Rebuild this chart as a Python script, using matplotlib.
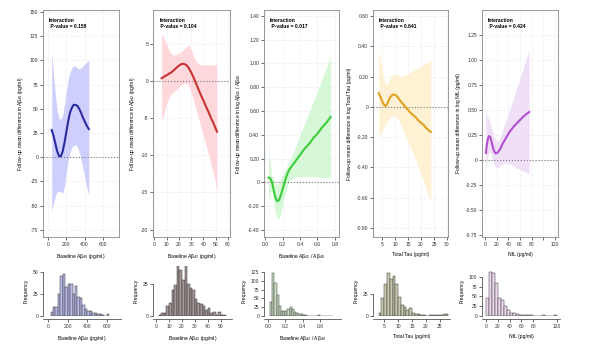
import numpy as np
import matplotlib
matplotlib.use("Agg")
import matplotlib.pyplot as plt

plt.rcParams['font.family'] = ['Liberation Sans', 'DejaVu Sans']
plt.rcParams['mathtext.fontset'] = 'custom'
plt.rcParams['mathtext.rm'] = 'Liberation Sans'
plt.rcParams['mathtext.it'] = 'Liberation Sans'

# ---- spline fits (x, estimate, lower, upper) ----
ab40_x = [40, 60, 80, 100, 120, 140, 160, 180, 200, 220, 240, 260, 280, 300, 320, 340, 360, 380, 400, 420, 445]
ab40_fit = [28, 22, 14, 6, 1, 1, 6, 15, 26, 37, 46, 51, 54, 54, 53, 50, 46, 41, 37, 33, 29]
ab40_lo = [-56, -48, -40, -36, -35, -36, -37, -30, -16, -3, 5, 10, 12, 13, 11, 6, -2, -11, -20, -30, -40]
ab40_hi = [108, 85, 65, 48, 40, 39, 43, 55, 68, 80, 88, 92, 94, 94, 92, 91, 92, 94, 96, 98, 100]

ab42_x = [6, 8, 10, 12, 14, 16, 18, 20, 22, 24, 26, 28, 30, 32, 34, 36, 38, 40, 42, 44, 46, 48, 50, 51]
ab42_fit = [0.4, 0.6, 0.8, 1.0, 1.2, 1.5, 1.8, 2.1, 2.3, 2.35, 2.2, 1.8, 1.2, 0.5, -0.3, -1.1, -1.9, -2.6, -3.4, -4.1, -4.9, -5.6, -6.4, -6.8]
ab42_lo = [-5.5, -4.3, -3.0, -2.2, -1.7, -1.4, -1.1, -0.8, -0.5, -0.3, -0.3, -0.6, -1.5, -2.6, -3.8, -5.0, -6.2, -7.4, -8.6, -9.8, -11.1, -12.4, -13.8, -14.8]
ab42_hi = [6.5, 5.8, 4.9, 4.2, 3.7, 3.5, 3.6, 3.8, 4.0, 4.3, 4.6, 4.9, 4.3, 3.3, 2.6, 2.3, 2.2, 2.2, 2.2, 2.2, 2.2, 2.2, 2.2, 2.2]

ratio_x = [0.04, 0.06, 0.08, 0.10, 0.12, 0.14, 0.16, 0.18, 0.20, 0.22, 0.24, 0.26, 0.28, 0.30, 0.35, 0.40, 0.45, 0.50, 0.55, 0.60, 0.65, 0.70, 0.75]
ratio_fit = [0.04, 0.035, 0.0, -0.07, -0.13, -0.16, -0.15, -0.11, -0.06, -0.01, 0.04, 0.08, 0.11, 0.13, 0.18, 0.23, 0.28, 0.32, 0.37, 0.41, 0.46, 0.50, 0.55]
ratio_lo = [-0.18, -0.08, -0.07, -0.17, -0.26, -0.30, -0.30, -0.26, -0.20, -0.13, -0.07, -0.02, 0.01, 0.03, 0.05, 0.05, 0.05, 0.05, 0.05, 0.05, 0.04, 0.04, 0.04]
ratio_hi = [0.27, 0.15, 0.06, 0.02, -0.01, -0.02, 0.0, 0.03, 0.06, 0.09, 0.12, 0.15, 0.18, 0.21, 0.30, 0.40, 0.49, 0.58, 0.68, 0.77, 0.87, 0.96, 1.06]

tau_x = [3.7, 4.5, 5.5, 6.3, 7, 8, 9, 10, 11, 12, 13, 14, 15, 16, 17, 18, 19, 20, 21, 22, 23, 23.8]
tau_fit = [0.09, 0.06, 0.02, 0.005, 0.02, 0.06, 0.08, 0.08, 0.065, 0.04, 0.02, 0.0, -0.02, -0.04, -0.055, -0.07, -0.09, -0.105, -0.12, -0.14, -0.155, -0.165]
tau_lo = [-0.20, -0.17, -0.14, -0.12, -0.10, -0.07, -0.06, -0.06, -0.08, -0.11, -0.15, -0.19, -0.23, -0.27, -0.31, -0.35, -0.40, -0.44, -0.49, -0.54, -0.59, -0.64]
tau_hi = [0.39, 0.30, 0.20, 0.15, 0.15, 0.19, 0.21, 0.22, 0.21, 0.20, 0.20, 0.21, 0.22, 0.23, 0.24, 0.25, 0.26, 0.27, 0.28, 0.29, 0.30, 0.31]

nfl_x = [1.7, 3, 5, 7, 9, 11, 13, 15, 17, 19, 21, 24, 27, 30, 34, 38, 42, 46, 50, 55, 60, 65, 70, 75.6]
nfl_fit = [0.07, 0.14, 0.21, 0.24, 0.23, 0.19, 0.14, 0.10, 0.075, 0.065, 0.07, 0.09, 0.12, 0.16, 0.20, 0.24, 0.28, 0.31, 0.34, 0.37, 0.40, 0.43, 0.455, 0.48]
nfl_lo = [-0.10, -0.04, 0.04, 0.08, 0.08, 0.05, 0.01, -0.03, -0.06, -0.08, -0.08, -0.07, -0.05, -0.04, -0.03, -0.03, -0.04, -0.05, -0.06, -0.08, -0.09, -0.11, -0.12, -0.14]
nfl_hi = [0.50, 0.47, 0.43, 0.40, 0.37, 0.33, 0.29, 0.25, 0.22, 0.20, 0.19, 0.20, 0.24, 0.29, 0.36, 0.43, 0.50, 0.57, 0.64, 0.73, 0.82, 0.91, 1.00, 1.10]

# ---- histograms of baseline values (bin start, bin width, counts) ----
h_ab40_start, h_ab40_w = 25, 25
h_ab40 = [5, 10, 10, 25, 46, 48, 33, 37, 37, 25, 34, 22, 20, 12, 8, 6, 6, 3, 3, 2, 2, 1, 0, 2]
h_ab42_start, h_ab42_w = 2, 2
h_ab42 = [1, 2, 2, 8, 10, 20, 24, 40, 36, 28, 42, 25, 22, 20, 13, 10, 9, 8, 5, 6, 2, 3, 1, 3, 1, 1]
h_ratio_start, h_ratio_w = 0.025, 0.025
h_ratio = [40, 122, 95, 60, 28, 14, 15, 15, 20, 25, 20, 12, 9, 7, 5, 3, 2, 1, 1, 1, 1, 1, 2, 1, 1, 1, 1, 1, 1]
h_tau_start, h_tau_w = 3, 1
h_tau = [3, 20, 36, 49, 42, 46, 36, 22, 12, 10, 7, 9, 3, 2, 2, 1, 1, 0, 1, 1, 1, 1, 1, 2, 2]
h_nfl_start, h_nfl_w = 0, 5
h_nfl = [45, 112, 110, 85, 45, 40, 25, 15, 8, 8, 5, 3, 3, 3, 3, 2, 1, 1, 1, 2, 0, 0, 1, 2]

pvals = ["0.158", "0.104", "0.017", "0.641", "0.424"]
xlabels = ["Baseline A$\\beta_{40}$ (pg/ml)", "Baseline A$\\beta_{42}$ (pg/ml)",
           "Baseline A$\\beta_{42}$ / A$\\beta_{40}$", "Total Tau (pg/ml)", "NfL (pg/ml)"]
ylabels = ["Follow-up mean difference in A$\\beta_{40}$ (pg/ml)",
           "Follow-up mean difference in A$\\beta_{42}$ (pg/ml)",
           "Follow-up mean difference in log A$\\beta_{42}$ / A$\\beta_{40}$",
           "Follow-up mean difference in log Total Tau (pg/ml)",
           "Follow-up mean difference in log NfL (pg/ml)"]

fits = [(ab40_x, ab40_fit, ab40_lo, ab40_hi), (ab42_x, ab42_fit, ab42_lo, ab42_hi),
        (ratio_x, ratio_fit, ratio_lo, ratio_hi), (tau_x, tau_fit, tau_lo, tau_hi),
        (nfl_x, nfl_fit, nfl_lo, nfl_hi)]
hists = [(h_ab40_start, h_ab40_w, h_ab40), (h_ab42_start, h_ab42_w, h_ab42),
         (h_ratio_start, h_ratio_w, h_ratio), (h_tau_start, h_tau_w, h_tau),
         (h_nfl_start, h_nfl_w, h_nfl)]

line_cols = ["#2b2ba0", "#c83232", "#3ccc3c", "#e0a020", "#b050d0"]
band_cols = ["#cfcffd", "#ffd8dc", "#d6f8d6", "#fff2d4", "#efe0f7"]
hist_cols = ["#bcbcea", "#a49696", "#cce0c4", "#c8c8ae", "#ecdaec"]

# axis layout (pixels in the 600x352 image)
lefts = [43, 153, 264, 373, 482]
widths = [76, 77, 75, 75, 76]
xlims = [(-55, 775), (-1, 61.6), (-0.012, 0.846), (1.5, 30.4), (-5, 125)]
ylims = [(-82.5, 152), (-21, 9.6), (-0.46, 1.45), (-0.86, 0.64), (-0.77, 1.5)]
xticks = [[0, 200, 400, 600], [0, 10, 20, 30, 40, 50, 60], [0.0, 0.2, 0.4, 0.6, 0.8],
          [5, 10, 15, 20, 25, 30], [0, 20, 40, 60, 80, 100, 120]]
xtlabs = [["0", "200", "400", "600"], ["0", "10", "20", "30", "40", "50", "60"],
          ["0.0", "0.2", "0.4", "0.6", "0.8"], ["5", "10", "15", "20", "25", "30"],
          ["0", "20", "40", "60", "80", "", "120"]]
yticks = [[-75, -50, -25, 0, 25, 50, 75, 100, 125, 150], [-20, -15, -10, -5, 0, 5],
          [-0.4, -0.2, 0, 0.2, 0.4, 0.6, 0.8, 1.0, 1.2, 1.4],
          [-0.8, -0.6, -0.4, -0.2, 0, 0.2, 0.4, 0.6],
          [-0.75, -0.5, -0.25, 0, 0.25, 0.5, 0.75, 1.0, 1.25]]
ytfmt = ["{:.0f}", "{:.0f}", "{:.2f}", "{:.2f}", "{:.2f}"]

hxlims = [(-52, 744), (-2.4, 58.7), (-0.045, 0.84), (1.0, 28.6), (-6.6, 125)]
hylims = [57, 39, 142, 57, 128]
hxticks = [[0, 200, 400, 600], [0, 10, 20, 30, 40, 50], [0.0, 0.2, 0.4, 0.6],
           [5, 10, 15, 20, 25], [0, 20, 40, 60, 80, 120]]
hyticks = [[0, 25, 50], [0, 25], [0, 25, 50, 75, 100, 125], [0, 25], [0, 25, 50, 75, 100]]

W, H = 600, 352
fig = plt.figure(figsize=(6, 3.52), dpi=100)
fs = 3.6

for i in range(5):
    x, fit, lo, hi = fits[i]
    ax = fig.add_axes([lefts[i] / W, (H - 237) / H, widths[i] / W, 227 / H])
    ax.set_xlim(*xlims[i])
    ax.set_ylim(*ylims[i])
    ax.set_xticks(xticks[i])
    ax.set_xticklabels(xtlabs[i])
    ax.set_yticks(yticks[i])
    ax.set_yticklabels([ytfmt[i].format(v) if abs(v) > 1e-9 else "0" for v in yticks[i]])
    ax.grid(True, color="#e4e4e4", linestyle=":", linewidth=0.6)
    ax.set_axisbelow(True)
    ax.fill_between(x, lo, hi, color=band_cols[i], linewidth=0, zorder=2)
    ax.axhline(0, color="#777777", linestyle=":", linewidth=0.8, zorder=3)
    ax.plot(x, fit, color=line_cols[i], linewidth=1.5, zorder=4)
    ax.tick_params(labelsize=fs, length=2, width=0.5, pad=1.5, colors="#333333")
    for s in ax.spines.values():
        s.set_color("#888888")
        s.set_linewidth(0.6)
    ax.set_xlabel(xlabels[i], fontsize=fs, labelpad=4)
    ax.set_ylabel(ylabels[i], fontsize=fs, labelpad=3)
    ax.text(0.08, 0.965, "Interaction\n P-value = " + pvals[i], transform=ax.transAxes,
            fontsize=fs, fontweight="bold", va="top", ha="left", linespacing=1.2)

    start, w, counts = hists[i]
    hax = fig.add_axes([lefts[i] / W, (H - 316) / H, (widths[i] + 2) / W, 50 / H])
    edges = [start + k * w for k in range(len(counts))]
    hax.bar(edges, counts, width=w, align="edge", color=hist_cols[i],
            edgecolor="#333333", linewidth=0.35)
    hax.set_xlim(*hxlims[i])
    hax.set_ylim(0, hylims[i])
    hax.set_xticks(hxticks[i])
    hax.set_yticks(hyticks[i])
    hax.spines["top"].set_visible(False)
    hax.spines["right"].set_visible(False)
    hax.spines["bottom"].set_position(("outward", 2))
    hax.spines["left"].set_bounds(hyticks[i][0], hyticks[i][-1])
    for s in ["bottom", "left"]:
        hax.spines[s].set_linewidth(0.5)
        hax.spines[s].set_color("#333333")
    hax.tick_params(labelsize=fs, length=2, width=0.5, pad=1.5, colors="#333333")
    hax.set_ylabel("Frequency", fontsize=fs, labelpad=3)
    hax.set_xlabel(xlabels[i], fontsize=fs, labelpad=4)

fig.savefig("out.png", dpi=100)
